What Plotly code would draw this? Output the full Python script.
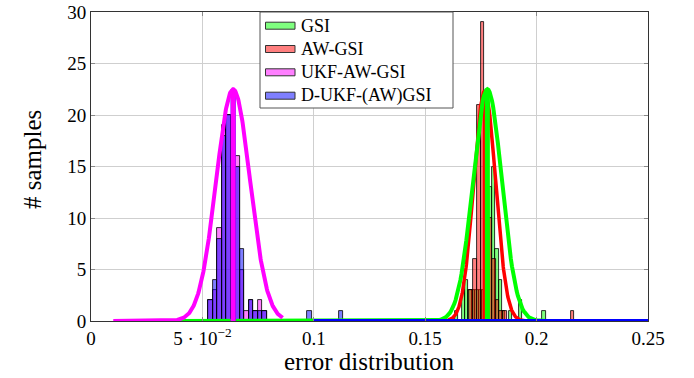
import numpy as np
import plotly.graph_objects as go

# ---------------- data ----------------
series_names = ["GSI", "AW-GSI", "UKF-AW-GSI", "D-UKF-(AW)GSI"]

# histogram counts per bin (bin k starts at start + k*width)
gsi_bin_start = 0.16338
gsi_bin_width = 0.001508
gsi_counts = [1, 0, 3, 4, 3, 3, 3, 3, 3, 20, 13, 15, 7, 4, 1, 0, 1, 0, 0, 2,
              0, 0, 0, 0, 0, 0, 1]

awgsi_bin_start = 0.16988
awgsi_bin_width = 0.001683
awgsi_counts = [3, 6, 21, 29, 20, 10, 6, 2, 1, 1, 0, 0, 0, 0, 0, 0, 0, 0, 0, 0,
                0, 0, 0, 0, 0, 0, 0, 1]

ukf_bin_start = 0.0527
ukf_bin_width = 0.00202
ukf_counts = [2, 3, 9, 19, 20, 20, 16, 5, 1, 2, 1, 2, 1]

dukf_bin_start = 0.0527
dukf_bin_width = 0.00202
dukf_counts = [2, 4, 8, 18, 20, 19, 15, 7, 0, 2, 1, 1, 1, 0, 0, 0, 0, 0, 0, 0,
               0, 0, 1, 0, 0, 0, 0, 0, 0, 1]

# gaussian fits (mean, std, peak height, plotted domain)
fit_means = [0.1779, 0.1767, 0.0638, 0.0638]
fit_sigmas = [0.0065, 0.0049, 0.0076, 0.0076]
fit_peaks = [22.5, 22.3, 22.5, 22.5]
fit_domains = [(0.04, 0.25), (0.15, 0.21), (0.01, 0.086), (0.10, 0.25)]

x_tickvals = [0, 0.05, 0.1, 0.15, 0.2, 0.25]
x_ticktext = ["0", "5 · 10<sup>−2</sup>", "0.1", "0.15", "0.2", "0.25"]
y_tickvals = [0, 5, 10, 15, 20, 25, 30]
x_title = "error distribution"
y_title = "# samples"

# ---------------- style ----------------
line_colors = ["#00ff00", "#ff0000", "#ff00ff", "#0000ff"]
fill_colors = ["rgba(0,255,0,0.5)", "rgba(255,0,0,0.5)",
               "rgba(255,0,255,0.5)", "rgba(0,0,255,0.5)"]
curve_widths = [4, 3.5, 4, 4]
vline_widths = [5, 4, 5, 5]
FONT = "Liberation Serif, Times New Roman, serif"

hists = [
    (gsi_bin_start, gsi_bin_width, gsi_counts),
    (awgsi_bin_start, awgsi_bin_width, awgsi_counts),
    (ukf_bin_start, ukf_bin_width, ukf_counts),
    (dukf_bin_start, dukf_bin_width, dukf_counts),
]

fig = go.Figure()

for i, (start, width, counts) in enumerate(hists):
    counts = np.array(counts)
    centers = start + width * (np.arange(len(counts)) + 0.5)
    keep = counts > 0
    fig.add_trace(go.Bar(
        x=centers[keep], y=counts[keep], width=width,
        marker=dict(color=fill_colors[i], line=dict(color="black", width=0.8)),
        name=series_names[i], showlegend=False, hoverinfo="skip",
    ))


def add_fit(i):
    a, b = fit_domains[i]
    xs = np.linspace(a, b, 400)
    ys = fit_peaks[i] * np.exp(-(xs - fit_means[i]) ** 2 / (2 * fit_sigmas[i] ** 2))
    fig.add_trace(go.Scatter(x=xs, y=ys, mode="lines",
                             line=dict(color=line_colors[i], width=curve_widths[i]),
                             showlegend=False, hoverinfo="skip"))
    fig.add_trace(go.Scatter(x=[fit_means[i], fit_means[i]], y=[0, fit_peaks[i]],
                             mode="lines",
                             line=dict(color=line_colors[i], width=vline_widths[i]),
                             showlegend=False, hoverinfo="skip"))


for i in [1, 0, 3, 2]:
    add_fit(i)

# ---------------- manual legend & titles ----------------
L, R, T, B = 91, 648, 12, 321
W, H = R - L, B - T


def px(xp):
    return (xp - L) / W


def py(yp):
    return (B - yp) / H


shapes = [dict(type="rect", xref="paper", yref="paper",
               x0=px(260), x1=px(453), y0=py(108), y1=py(12),
               fillcolor="white", line=dict(color="#555555", width=1), layer="above")]
annotations = []
row_y = [25.7, 49.0, 72.3, 95.7]
for i, name in enumerate(series_names):
    shapes.append(dict(type="rect", xref="paper", yref="paper",
                       x0=px(265.5), x1=px(295), y0=py(row_y[i] + 3.5), y1=py(row_y[i] - 3.5),
                       fillcolor=fill_colors[i], line=dict(color="#333333", width=1),
                       layer="above"))
    annotations.append(dict(xref="paper", yref="paper", x=px(298.5), y=py(row_y[i]),
                            text=name, showarrow=False, xanchor="left", yanchor="middle",
                            font=dict(family=FONT, size=18, color="black")))

annotations.append(dict(xref="paper", yref="paper", x=px(369.5), y=py(361),
                        text=x_title, showarrow=False, xanchor="center", yanchor="middle",
                        font=dict(family=FONT, size=25, color="black")))
annotations.append(dict(xref="paper", yref="paper", x=px(32), y=py(160),
                        text=y_title, showarrow=False, xanchor="center", yanchor="middle",
                        textangle=-90,
                        font=dict(family=FONT, size=25, color="black")))

fig.update_layout(
    width=694, height=378,
    margin=dict(l=L, r=694 - R, t=T, b=378 - B),
    paper_bgcolor="white", plot_bgcolor="white",
    barmode="overlay", bargap=0,
    showlegend=False,
    shapes=shapes, annotations=annotations,
    font=dict(family=FONT, color="black"),
)
axis_common = dict(
    showgrid=True, gridcolor="#cfcfcf", gridwidth=1, zeroline=False,
    showline=True, linecolor="#333333", linewidth=1, mirror="ticks",
    ticks="inside", ticklen=4, tickcolor="#888888", automargin=False,
    tickfont=dict(family=FONT, size=19, color="black"),
)
fig.update_xaxes(range=[0, 0.25], tickvals=x_tickvals, ticktext=x_ticktext, **axis_common)
fig.update_yaxes(range=[0, 30], tickvals=y_tickvals, **axis_common)

fig.write_html("out.html")
